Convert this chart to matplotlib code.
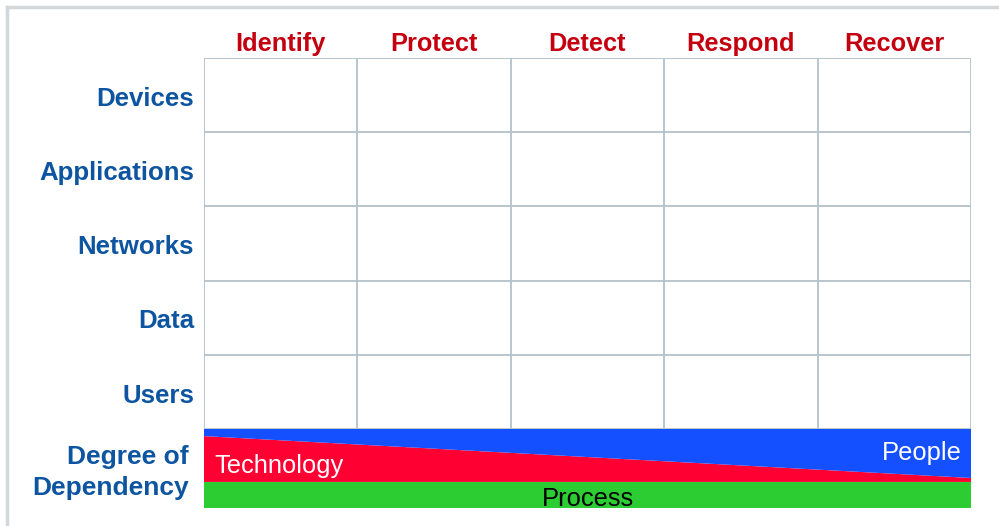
import matplotlib.pyplot as plt
import numpy as np
from matplotlib.lines import Line2D

plt.rcParams['font.family'] = ['Liberation Sans', 'DejaVu Sans']

functions = ['Identify', 'Protect', 'Detect', 'Respond', 'Recover']
assets = ['Devices', 'Applications', 'Networks', 'Data', 'Users']

# share of dependency at the left (Identify) and right (Recover) ends
dep_x = [0, 1]
process = [0.33, 0.33]
technology = [0.58, 0.05]
people = [0.09, 0.62]

W, H = 999, 526
fig = plt.figure(figsize=(W / 100, H / 100), dpi=100)

# grid area in pixels
left, right, top, grid_bottom, band_bottom = 204, 971, 58, 429, 508

def fig_rect(x0, y0, x1, y1):
    return [x0 / W, 1 - y1 / H, (x1 - x0) / W, (y1 - y0) / H]

grid_col = '#b4c2ca'
ax = fig.add_axes(fig_rect(left, top, right, grid_bottom))
ax.set_xlim(0, len(functions))
ax.set_ylim(len(assets), 0)
for i in range(len(functions) + 1):
    ax.axvline(i, color=grid_col, lw=1.3)
for j in range(len(assets) + 1):
    ax.axhline(j, color=grid_col, lw=1.3)
for s in ax.spines.values():
    s.set_visible(False)
ax.set_xticks([])
ax.set_yticks([])

for i, f in enumerate(functions):
    ax.text(i + 0.5, -0.03, f, ha='center', va='bottom', fontsize=18.3,
            fontweight='bold', color='#c40010')
for j, a in enumerate(assets):
    ax.text(-0.065, j + 0.55, a, ha='right', va='center', fontsize=18.6,
            fontweight='bold', color='#0d55a0')

# degree of dependency band
bx = fig.add_axes(fig_rect(left, grid_bottom, right, band_bottom))
bx.stackplot(dep_x, process, technology, people,
             colors=['#2ccc33', '#ff0033', '#1450ff'], lw=0)
bx.set_xlim(0, 1)
bx.set_ylim(0, 1)
bx.axis('off')
bx.text(0.013, 0.53, 'Technology', ha='left', va='center', fontsize=18.4,
        color='white')
bx.text(0.988, 0.69, 'People', ha='right', va='center', fontsize=18.4,
        color='white')
bx.text(0.5, 0.12, 'Process', ha='center', va='center', fontsize=18.4,
        color='black')
bx.text(-0.02, 0.64, 'Degree of', ha='right', va='center', fontsize=19,
        fontweight='bold', color='#0d55a0')
bx.text(-0.02, 0.25, 'Dependency', ha='right', va='center', fontsize=19,
        fontweight='bold', color='#0d55a0')

# light frame at the top and left edge
fig.add_artist(Line2D([7 / W, 7 / W], [0, 1 - 7 / H], color='#d4d7da', lw=2.5))
fig.add_artist(Line2D([7 / W, 1], [1 - 7 / H, 1 - 7 / H], color='#d4d7da', lw=2.5))

fig.savefig('out.png', dpi=100)
